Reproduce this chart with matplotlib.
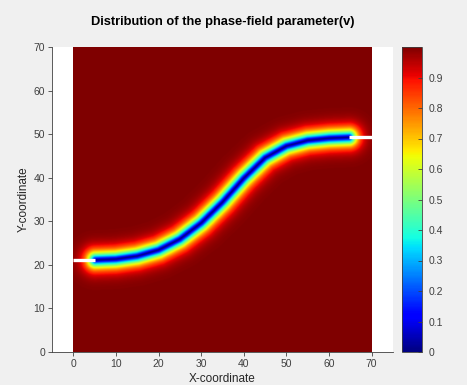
import numpy as np
import matplotlib
matplotlib.use("Agg")
import matplotlib.pyplot as plt

plt.rcParams["font.family"] = ["Liberation Sans", "DejaVu Sans"]

# ---------------------------------------------------------------------------
# Data
# ---------------------------------------------------------------------------
# crack path (centre line of the v = 0 band)
path_x = [5.2, 10.0, 15.0, 20.0, 25.0, 30.0, 35.0, 40.0, 45.0, 50.0, 55.0, 60.0, 64.7]
path_y = [21.1, 21.3, 22.0, 23.4, 25.9, 29.6, 34.4, 39.9, 44.6, 47.3, 48.6, 49.1, 49.3]

# initial notches drawn as white lines
notch_left_x = [0.0, 5.2]
notch_left_y = [21.1, 21.1]
notch_right_x = [64.7, 70.0]
notch_right_y = [49.3, 49.3]

domain = (0.0, 70.0, 0.0, 70.0)
length_scale = 1.75
profile_power = 1.25
cbar_ticks = [0.0, 0.1, 0.2, 0.3, 0.4, 0.5, 0.6, 0.7, 0.8, 0.9]


def distance_to_polyline(X, Y, px, py):
    d = np.full(X.shape, np.inf)
    for i in range(len(px) - 1):
        ax_, ay_ = px[i], py[i]
        bx, by = px[i + 1], py[i + 1]
        vx, vy = bx - ax_, by - ay_
        t = ((X - ax_) * vx + (Y - ay_) * vy) / (vx * vx + vy * vy)
        t = np.clip(t, 0.0, 1.0)
        dx = X - (ax_ + t * vx)
        dy = Y - (ay_ + t * vy)
        d = np.minimum(d, np.hypot(dx, dy))
    return d


# phase-field on a grid
xs = np.linspace(domain[0], domain[1], 561)
ys = np.linspace(domain[2], domain[3], 561)
X, Y = np.meshgrid(xs, ys)
dist = distance_to_polyline(X, Y, path_x, path_y)
v = 1.0 - np.exp(-(dist / length_scale) ** profile_power)

# ---------------------------------------------------------------------------
# Plot
# ---------------------------------------------------------------------------
W, H = 467, 385
fig = plt.figure(figsize=(W / 100, H / 100), dpi=100, facecolor="#f0f0f0")
ax = fig.add_axes([52 / W, 1 - 352 / H, 341 / W, 305 / H])
cax = fig.add_axes([402 / W, 1 - 352 / H, 20 / W, 305 / H])

im = ax.imshow(v, origin="lower", extent=domain, cmap="jet", vmin=0, vmax=1,
               interpolation="bilinear", aspect="auto")
ax.plot(notch_left_x, notch_left_y, color="white", lw=2.4, solid_capstyle="butt")
ax.plot(notch_right_x, notch_right_y, color="white", lw=2.4, solid_capstyle="butt")

ax.set_xlim(-5, 75)
ax.set_ylim(0, 70)
ax.set_facecolor("white")
ax.set_xticks(np.arange(0, 71, 10))
ax.set_yticks(np.arange(0, 71, 10))
for s in ("top", "right"):
    ax.spines[s].set_visible(False)
for s in ("left", "bottom"):
    ax.spines[s].set_color("#404040")
    ax.spines[s].set_linewidth(0.6)
ax.tick_params(direction="out", length=3, width=0.6, colors="#404040",
               labelsize=7.5, pad=2)
ax.set_xlabel("X-coordinate", fontsize=8.5, color="#262626", labelpad=3)
ax.set_ylabel("Y-coordinate", fontsize=8.5, color="#262626", labelpad=3)
ax.set_title("Distribution of the phase-field parameter(v)", fontsize=9.3,
             fontweight="bold", pad=16)

cb = fig.colorbar(im, cax=cax, ticks=cbar_ticks)
cb.outline.set_edgecolor("#404040")
cb.outline.set_linewidth(0.6)
cax.tick_params(direction="in", length=3, width=0.6, colors="#404040",
                labelsize=7.5, pad=5)
cax.set_yticklabels([f"{t:g}" for t in cbar_ticks])

fig.savefig("out.png", dpi=100, facecolor=fig.get_facecolor())
